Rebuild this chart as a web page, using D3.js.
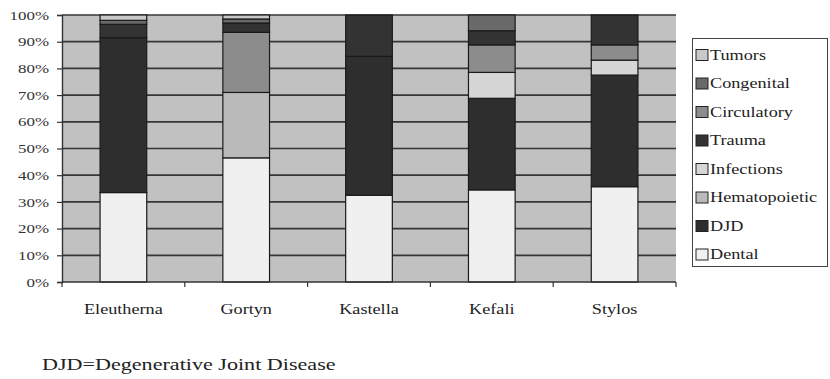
<!DOCTYPE html>
<html>
<head>
<meta charset="utf-8">
<script src="https://cdn.jsdelivr.net/npm/d3@7/dist/d3.min.js"></script>
<style>
  html, body { margin: 0; padding: 0; background: #fff; }
  svg { display: block; }
  svg text { font-family: "Liberation Serif", "Times New Roman", "DejaVu Serif", serif; }
</style>
</head>
<body>
<svg id="chart" width="830" height="379"></svg>
<script>
// Sites along the x axis
const sites = ["Eleutherna", "Gortyn", "Kastella", "Kefali", "Stylos"];

// Percentage of each pathology per site, bottom to top of the stack
const dental        = [33.5, 46.5, 32.5, 34.5, 35.7];
const djd           = [58.0,  0.0, 52.0, 34.3, 41.8];
const hematopoietic = [ 0.0, 24.5,  0.0,  0.0,  0.0];
const infections    = [ 0.0,  0.0,  0.0,  9.7,  5.6];
const circulatory   = [ 0.0, 22.5,  0.0, 10.3,  5.7];
const trauma        = [ 5.0,  3.5, 15.5,  5.3, 11.2];
const congenital    = [ 1.5,  1.5,  0.0,  5.9,  0.0];
const tumors        = [ 2.0,  1.5,  0.0,  0.0,  0.0];

const stackNames  = ["Dental", "DJD", "Hematopoietic", "Infections", "Circulatory", "Trauma", "Congenital", "Tumors"];
const stackValues = [dental, djd, hematopoietic, infections, circulatory, trauma, congenital, tumors];
const legendNames = ["Tumors", "Congenital", "Circulatory", "Trauma", "Infections", "Hematopoietic", "DJD", "Dental"];

const colorOf = {
  Dental: "#f0f0f0", DJD: "#2e2e2e", Hematopoietic: "#bababa", Infections: "#d6d6d6",
  Circulatory: "#8c8c8c", Trauma: "#333333", Congenital: "#696969", Tumors: "#c8c8c8"
};

const yTicks = [0, 10, 20, 30, 40, 50, 60, 70, 80, 90, 100];
const footnote = "DJD=Degenerative Joint Disease";

// Text in this chart is set wide; widen each label by this factor
const WIDE = 1.3;
function widen(sel) {
  sel.each(function () {
    const w = this.getComputedTextLength();
    d3.select(this).attr("textLength", w * WIDE).attr("lengthAdjust", "spacingAndGlyphs");
  });
}

const svg = d3.select("#chart");
const plot = { left: 62, right: 676, top: 15, bottom: 282 };

const xb = d3.scaleBand().domain(sites).range([plot.left, plot.right]);
const x = d3.scaleBand().domain(sites).range([plot.left, plot.right]).paddingInner(0.62).paddingOuter(0.31);
const y = d3.scaleLinear().domain([0, 100]).range([plot.bottom, plot.top]);

// Rows for the stack layout
const rows = sites.map((s, i) => {
  const r = { site: s };
  stackNames.forEach((n, k) => { r[n] = stackValues[k][i]; });
  return r;
});
const stack = d3.stack().keys(stackNames)(rows);

// Plot background
svg.append("rect")
  .attr("x", plot.left).attr("y", plot.top)
  .attr("width", plot.right - plot.left).attr("height", plot.bottom - plot.top)
  .attr("fill", "#c1c1c1");

// Horizontal gridlines
svg.append("g").selectAll("line").data(yTicks.filter(t => t > 0)).join("line")
  .attr("x1", plot.left).attr("x2", plot.right)
  .attr("y1", d => y(d)).attr("y2", d => y(d))
  .attr("stroke", "#363636").attr("stroke-width", 1.7);

// Stacked bars
svg.append("g").selectAll("g").data(stack).join("g")
  .attr("fill", d => colorOf[d.key])
  .selectAll("rect").data(d => d.filter(p => p[1] - p[0] > 0)).join("rect")
  .attr("x", d => x(d.data.site))
  .attr("y", d => y(d[1]))
  .attr("width", x.bandwidth())
  .attr("height", d => y(d[0]) - y(d[1]))
  .attr("stroke", "#1a1a1a").attr("stroke-width", 1.2);

// Y axis
const yAxis = svg.append("g")
  .attr("transform", `translate(${plot.left},0)`)
  .call(d3.axisLeft(y).tickValues(yTicks).tickFormat(d => d + "%").tickSize(5).tickPadding(8));
yAxis.attr("font-family", null);
yAxis.select(".domain").attr("stroke", "#333").attr("stroke-width", 1.4);
yAxis.selectAll(".tick line").attr("stroke", "#333").attr("stroke-width", 1.2);
yAxis.selectAll("text").attr("font-size", 13).attr("fill", "#333").call(widen);

// X axis with ticks at category boundaries
const xAxisG = svg.append("g").attr("transform", `translate(0,${plot.bottom})`);
xAxisG.append("line").attr("x1", plot.left).attr("x2", plot.right)
  .attr("stroke", "#333").attr("stroke-width", 1.4);
const boundaries = sites.map(s => xb(s)).concat([plot.right]);
xAxisG.selectAll("line.tick").data(boundaries).join("line").attr("class", "tick")
  .attr("x1", d => d).attr("x2", d => d).attr("y1", 0).attr("y2", 5)
  .attr("stroke", "#333").attr("stroke-width", 1.2);
xAxisG.selectAll("text").data(sites).join("text")
  .attr("x", d => xb(d) + xb.bandwidth() / 2)
  .attr("y", 32)
  .attr("text-anchor", "middle")
  .attr("font-size", 14).attr("fill", "#222")
  .text(d => d)
  .call(widen);

// Legend
const legend = svg.append("g");
legend.append("rect")
  .attr("x", 692.5).attr("y", 38.5).attr("width", 135).attr("height", 228)
  .attr("fill", "#fff").attr("stroke", "#444").attr("stroke-width", 1);
const li = legend.selectAll("g.item").data(legendNames).join("g").attr("class", "item")
  .attr("transform", (d, i) => `translate(696,${55 + i * 28.5})`);
li.append("rect").attr("x", 0).attr("y", -5.5).attr("width", 12).attr("height", 11)
  .attr("fill", d => colorOf[d]).attr("stroke", "#222").attr("stroke-width", 1);
li.append("text").attr("x", 14).attr("y", 0).attr("dy", "0.35em")
  .attr("font-size", 14).attr("fill", "#222").text(d => d)
  .call(widen);

// Footnote
svg.append("text").attr("x", 42).attr("y", 370)
  .attr("font-size", 17).attr("fill", "#222").text(footnote)
  .call(widen);
</script>
</body>
</html>
